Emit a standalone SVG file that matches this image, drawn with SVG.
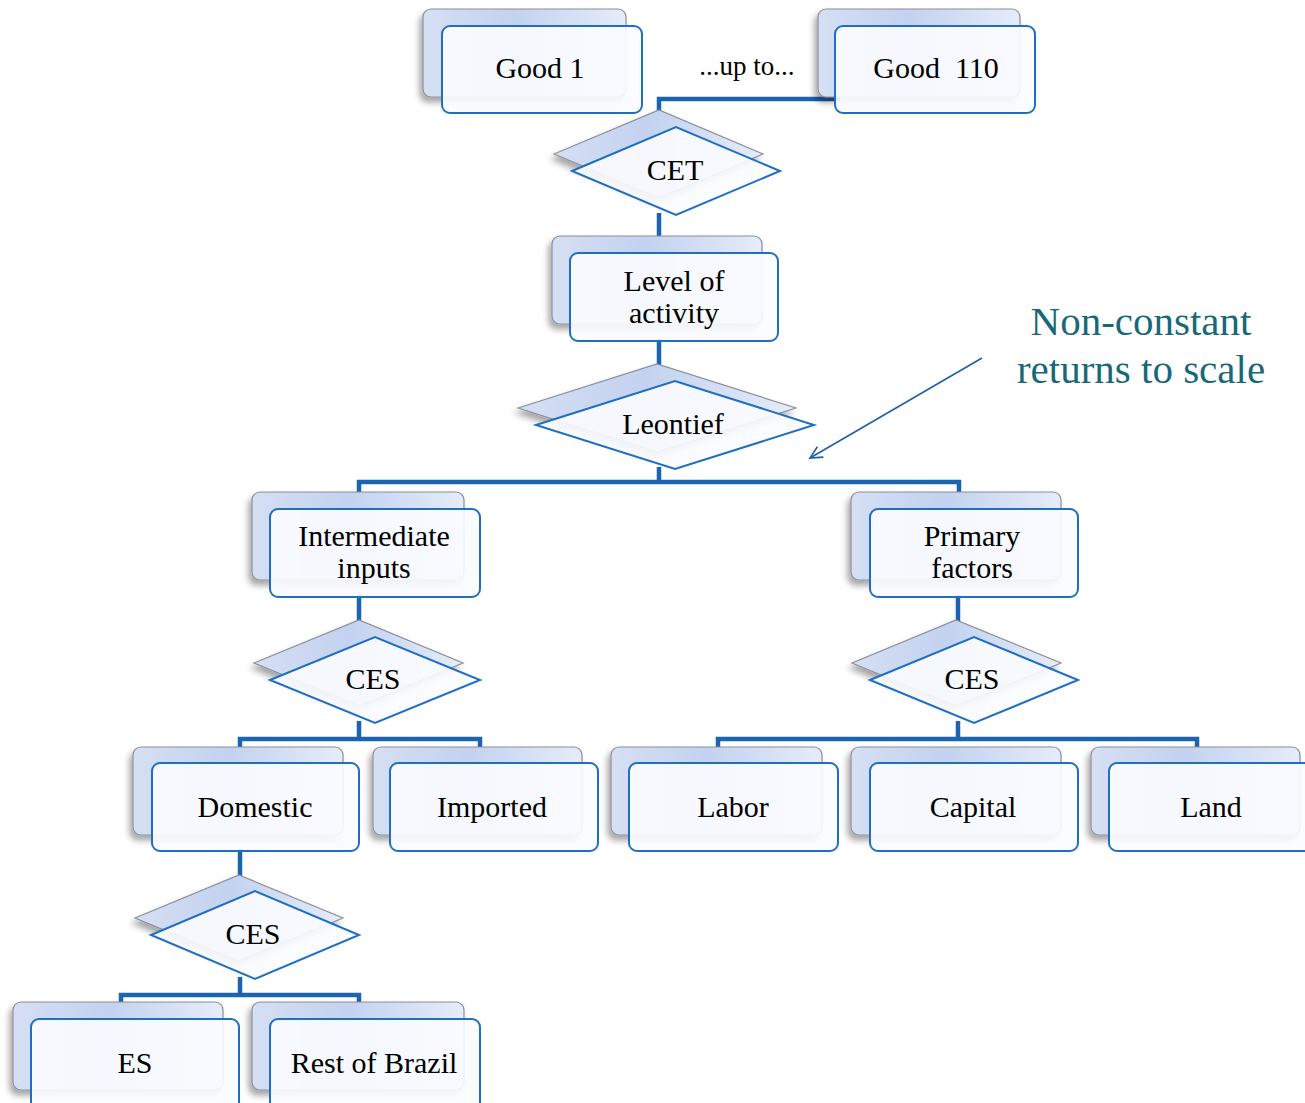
<svg xmlns="http://www.w3.org/2000/svg" width="1305" height="1103" viewBox="0 0 1305 1103">
<defs>
<linearGradient id="bg" x1="0" y1="0" x2="1" y2="0">
<stop offset="0" stop-color="#d6dff3"/>
<stop offset="0.45" stop-color="#c3d2f0"/>
<stop offset="1" stop-color="#e6ecf9"/>
</linearGradient>
<filter id="sh" x="-20%" y="-20%" width="140%" height="150%">
<feDropShadow dx="-3" dy="5" stdDeviation="3" flood-color="#000" flood-opacity="0.35"/>
</filter>
<marker id="ah" markerWidth="16" markerHeight="16" refX="14" refY="8" orient="auto" markerUnits="userSpaceOnUse">
<path d="M2,2 L14,8 L2,14" fill="none" stroke="#1f5fa8" stroke-width="1.6"/>
</marker>
<style>
.back{fill:url(#bg);stroke:#8a8f99;stroke-width:1.2;filter:url(#sh)}
.front{fill:#fbfcff;fill-opacity:0.9;stroke:#1e6fc2;stroke-width:2}
.conn{fill:none;stroke:#1c63b0;stroke-width:4.5}
.t{font-family:"Liberation Serif","Times New Roman",serif;font-size:30px;fill:#000;text-anchor:middle}
.note{font-family:"Liberation Serif","Times New Roman",serif;font-size:41px;fill:#17697a;text-anchor:middle}
</style>
</defs>
<rect width="1305" height="1103" fill="#fff"/>
<g id="connectors">
<path class="conn" d="M659,129 V99 H840"/>
<path class="conn" d="M659,213 V255"/>
<path class="conn" d="M659,339 V383"/>
<path class="conn" d="M659,467 V482 M359,511 V482 H959 V511"/>
<path class="conn" d="M359,595 V639"/>
<path class="conn" d="M359,721 V739 M240,765 V739 H480 V765"/>
<path class="conn" d="M958,595 V639"/>
<path class="conn" d="M958,721 V739 M718,765 V739 H1197 V765"/>
<path class="conn" d="M240,849 V893"/>
<path class="conn" d="M240,977 V995 M121,1021 V995 H359 V1021"/>
<line x1="982" y1="358" x2="810" y2="458" stroke="#1f5fa8" stroke-width="1.6" marker-end="url(#ah)"/>
</g>
<g id="good1">
<rect class="back" x="423" y="9" width="203" height="88" rx="8"/>
<rect class="front" x="442" y="26" width="200" height="87" rx="8"/>
<text class="t" x="540" y="78">Good 1</text>
</g>
<text id="upto" class="t" x="747" y="75" style="font-size:27px">...up to...</text>
<g id="good110">
<rect class="back" x="818" y="9" width="202" height="88" rx="8"/>
<rect class="front" x="835" y="26" width="200" height="87" rx="8"/>
<text class="t" x="936" y="78" xml:space="preserve">Good  110</text>
</g>
<g id="cet">
<polygon class="back" points="554,154 659,110 763,154 659,198"/>
<polygon class="front" points="572,171 676,127 780,171 676,215"/>
<text class="t" x="675" y="180">CET</text>
</g>
<g id="level">
<rect class="back" x="552" y="236" width="210" height="88" rx="8"/>
<rect class="front" x="570" y="253" width="208" height="88" rx="8"/>
<text class="t" x="674" y="291">Level of</text>
<text class="t" x="674" y="323">activity</text>
</g>
<g id="leontief">
<polygon class="back" points="518,408 657,364 796,408 657,452"/>
<polygon class="front" points="536,425 675,381 814,425 675,469"/>
<text class="t" x="673" y="434">Leontief</text>
</g>
<g id="intermediate">
<rect class="back" x="252" y="492" width="212" height="88" rx="8"/>
<rect class="front" x="270" y="509" width="210" height="88" rx="8"/>
<text class="t" x="374" y="546">Intermediate</text>
<text class="t" x="374" y="578">inputs</text>
</g>
<g id="primary">
<rect class="back" x="851" y="492" width="210" height="88" rx="8"/>
<rect class="front" x="870" y="509" width="208" height="88" rx="8"/>
<text class="t" x="972" y="546">Primary</text>
<text class="t" x="972" y="578">factors</text>
</g>
<g id="ces1">
<polygon class="back" points="254,663 359,620 463,663 359,706"/>
<polygon class="front" points="270,680 375,637 480,680 375,723"/>
<text class="t" x="373" y="689">CES</text>
</g>
<g id="ces2">
<polygon class="back" points="852,663 956,620 1061,663 956,706"/>
<polygon class="front" points="870,680 974,637 1078,680 974,723"/>
<text class="t" x="972" y="689">CES</text>
</g>
<g id="domestic">
<rect class="back" x="133" y="747" width="210" height="88" rx="8"/>
<rect class="front" x="152" y="763" width="207" height="88" rx="8"/>
<text class="t" x="255" y="817">Domestic</text>
</g>
<g id="imported">
<rect class="back" x="373" y="747" width="209" height="88" rx="8"/>
<rect class="front" x="390" y="763" width="208" height="88" rx="8"/>
<text class="t" x="492" y="817">Imported</text>
</g>
<g id="labor">
<rect class="back" x="611" y="747" width="211" height="88" rx="8"/>
<rect class="front" x="629" y="763" width="209" height="88" rx="8"/>
<text class="t" x="733" y="817">Labor</text>
</g>
<g id="capital">
<rect class="back" x="851" y="747" width="210" height="88" rx="8"/>
<rect class="front" x="870" y="763" width="208" height="88" rx="8"/>
<text class="t" x="973" y="817">Capital</text>
</g>
<g id="land">
<rect class="back" x="1091" y="747" width="209" height="88" rx="8"/>
<rect class="front" x="1109" y="763" width="208" height="88" rx="8"/>
<text class="t" x="1211" y="817">Land</text>
</g>
<g id="ces3">
<polygon class="back" points="135,918 239,875 343,918 239,961"/>
<polygon class="front" points="151,935 255,891 359,935 255,979"/>
<text class="t" x="253" y="944">CES</text>
</g>
<g id="es">
<rect class="back" x="13" y="1002" width="210" height="88" rx="8"/>
<rect class="front" x="31" y="1019" width="208" height="100" rx="8"/>
<text class="t" x="135" y="1073">ES</text>
</g>
<g id="rest">
<rect class="back" x="252" y="1002" width="212" height="88" rx="8"/>
<rect class="front" x="270" y="1019" width="210" height="100" rx="8"/>
<text class="t" x="374" y="1073">Rest of Brazil</text>
</g>
<g id="note">
<text class="note" x="1141" y="335">Non-constant</text>
<text class="note" x="1141" y="383">returns to scale</text>
</g>
</svg>
